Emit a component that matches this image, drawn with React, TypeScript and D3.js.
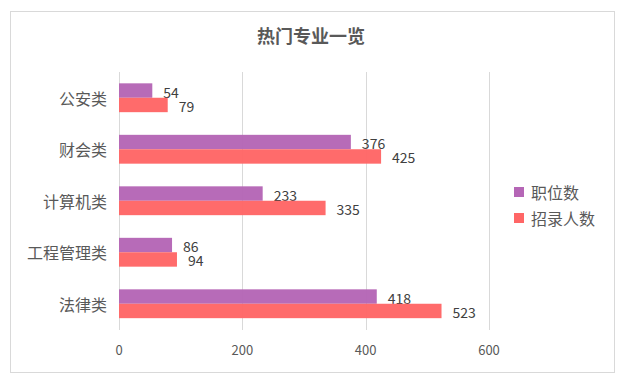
import React from "react";
import * as d3 from "d3";

const categories = ["公安类", "财会类", "计算机类", "工程管理类", "法律类"];
const positions = [54, 376, 233, 86, 418];
const recruits = [79, 425, 335, 94, 523];
const seriesNames = ["职位数", "招录人数"];
const xTicks = [0, 200, 400, 600];
const title = "热门专业一览";

const W = 624;
const H = 386;
const colors = ["#B566B6", "#FF6666"];
const font = "'Noto Sans CJK SC', 'Noto Sans', sans-serif";

export default function App() {
  const x = d3.scaleLinear().domain([0, 600]).range([119, 489]);
  const y = d3.scaleBand<string>().domain(categories).range([72, 329.5]).paddingInner(0.44).paddingOuter(0.22);
  const inner = d3.scaleBand<number>().domain([0, 1]).range([0, y.bandwidth()]);
  const series = [positions, recruits];

  return (
    <svg width={W} height={H} style={{ position: "absolute", left: 0, top: 0 }} fontFamily={font}>
      <rect x={0} y={0} width={W} height={H} fill="#fff" />
      <rect x={10.5} y={11.5} width={604} height={361} fill="#fff" stroke="#d9d9d9" strokeWidth={1} />
      <text x={311} y={43} textAnchor="middle" fontSize={18} fontWeight="bold" fill="#595959">
        {title}
      </text>
      {xTicks.map((t) => (
        <g key={t}>
          <line x1={Math.round(x(t)) + 0.5} x2={Math.round(x(t)) + 0.5} y1={72} y2={330} stroke="#d9d9d9" />
          <text x={x(t)} y={355} textAnchor="middle" fontSize={13} fill="#595959">
            {t}
          </text>
        </g>
      ))}
      {categories.map((c, i) => (
        <g key={c}>
          <text
            x={107}
            y={(y(c) as number) + y.bandwidth() / 2}
            textAnchor="end"
            dominantBaseline="central"
            fontSize={16}
            fill="#595959"
          >
            {c}
          </text>
          {series.map((s, j) => {
            const by = (y(c) as number) + (inner(j) as number);
            return (
              <g key={j}>
                <rect
                  x={x(0)}
                  y={by}
                  width={x(s[i]) - x(0)}
                  height={inner.bandwidth()}
                  fill={colors[j]}
                  fillOpacity={0.97}
                />
                <text
                  x={x(s[i]) + 11}
                  y={by + inner.bandwidth() / 2 + 1}
                  dominantBaseline="central"
                  fontSize={14}
                  fill="#404040"
                >
                  {s[i]}
                </text>
              </g>
            );
          })}
        </g>
      ))}
      {seriesNames.map((n, j) => (
        <g key={n}>
          <rect x={514} y={187 + j * 26} width={10} height={10} fill={colors[j]} />
          <text x={531} y={192 + j * 26} dominantBaseline="central" fontSize={16} fill="#595959">
            {n}
          </text>
        </g>
      ))}
    </svg>
  );
}
